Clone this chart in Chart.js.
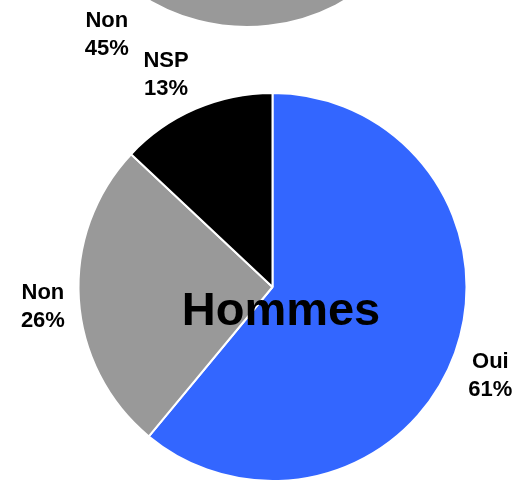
<!DOCTYPE html>
<html>
<head>
<meta charset="utf-8">
<script src="https://cdn.jsdelivr.net/npm/chart.js@4.4.1/dist/chart.umd.min.js"></script>
<style>
    html, body { margin: 0; padding: 0; background: #fff; overflow: hidden; }
    #page { position: relative; width: 526px; height: 482px; overflow: hidden; }
    .box { position: absolute; left: 0; width: 526px; height: 500px; }
    #topBox { top: -400px; }
    #mainBox { top: 0; }
</style>
</head>
<body>
<div id="page">
    <div class="box" id="topBox"><canvas id="topChart"></canvas></div>
    <div class="box" id="mainBox"><canvas id="mainChart"></canvas></div>
</div>
<script>
// ==================== DATA ====================
const categories = ['Oui', 'Non', 'NSP'];
const sliceColors = ['#3366FF', '#999999', '#000000'];

// top pie (only its bottom edge is visible)
const topValues = [37, 45, 18];

// main pie
const mainTitle = 'Hommes';
const mainValues = [61, 26, 13];

const FONT = '"Liberation Sans", Arial, sans-serif';

// draws "Label / xx%" outside each slice, box pushed away from the pie
const outsideLabels = {
    id: 'outsideLabels',
    afterDatasetsDraw(chart, args, opts) {
        const ctx = chart.ctx;
        const meta = chart.getDatasetMeta(0);
        const data = chart.data.datasets[0].data;
        const boxW = 50, boxH = 56, lineGap = 28;
        ctx.save();
        ctx.fillStyle = '#000';
        ctx.font = 'bold 22px ' + FONT;
        ctx.textAlign = 'center';
        ctx.textBaseline = 'alphabetic';
        meta.data.forEach((arc, i) => {
            const p = arc.getProps(['x', 'y', 'startAngle', 'endAngle', 'outerRadius'], true);
            const mid = (p.startAngle + p.endAngle) / 2;
            const dx = Math.cos(mid), dy = Math.sin(mid);
            const r = p.outerRadius + (opts.gap || 11);
            const fx = Math.max(-1, Math.min(1, dx * 4));
            const fy = Math.max(-1, Math.min(1, dy * 1.6));
            const x = p.x + dx * r + fx * boxW / 2;
            const y = p.y + dy * r + fy * boxH / 2;
            ctx.fillText(chart.data.labels[i], x, y - 4);
            ctx.fillText(data[i] + '%', x, y - 4 + lineGap);
        });
        if (opts.title) {
            const a = chart.chartArea;
            ctx.font = 'bold 47px ' + FONT;
            ctx.fillText(opts.title, (a.left + a.right) / 2 + 8.5, (a.top + a.bottom) / 2 + 38);
        }
        ctx.restore();
    }
};

function makePie(id, values, padding, labelOpts) {
    const canvas = document.getElementById(id);
    return new Chart(canvas.getContext('2d'), {
        type: 'pie',
        data: {
            labels: categories,
            datasets: [{
                data: values,
                backgroundColor: sliceColors,
                borderColor: '#ffffff',
                borderWidth: 2
            }]
        },
        options: {
            responsive: true,
            maintainAspectRatio: false,
            animation: false,
            layout: { padding: padding },
            plugins: {
                legend: { display: false },
                tooltip: { enabled: false },
                outsideLabels: labelOpts
            }
        },
        plugins: [outsideLabels]
    });
}

makePie('topChart', topValues, { top: 38, bottom: 72, left: 52, right: 84 }, { gap: 11 });
makePie('mainChart', mainValues, { top: 92, bottom: 18, left: 77.5, right: 58.5 }, { gap: 11, title: mainTitle });
</script>
</body>
</html>
